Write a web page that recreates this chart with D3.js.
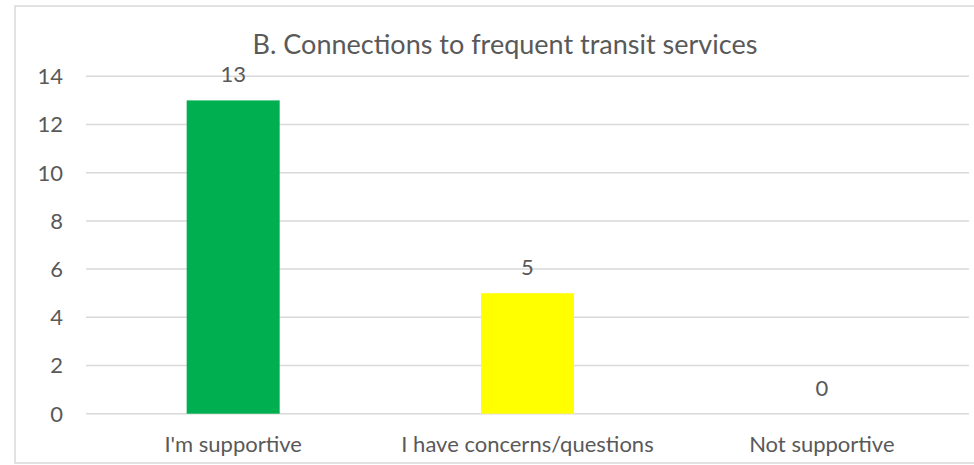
<!DOCTYPE html>
<html>
<head>
<meta charset="utf-8">
<script src="https://cdn.jsdelivr.net/npm/d3@7"></script>
<style>
    html, body { margin: 0; padding: 0; background: #fff; }
    svg { display: block; }
    text { font-family: Lato, "Open Sans", sans-serif; fill: #595959; }
</style>
</head>
<body>
<svg id="chart" width="974" height="465"></svg>
<script>
var title = "B. Connections to frequent transit services";
var categories = ["I'm supportive", "I have concerns/questions", "Not supportive"];
var counts = [13, 5, 0];
var barColors = ["#00B050", "#FFFF00", "#FFFF00"];
var yTicks = [0, 2, 4, 6, 8, 10, 12, 14];

var svg = d3.select("#chart");
var chartBox = {left: 15, top: 6, width: 980, height: 457};
var plot = {left: 86, right: 969, top: 76.3, bottom: 413.7};

// chart frame (right side runs off the picture)
svg.append("rect")
    .attr("x", chartBox.left)
    .attr("y", chartBox.top)
    .attr("width", chartBox.width)
    .attr("height", chartBox.height)
    .style("fill", "none")
    .style("stroke", "#D9D9D9")
    .style("stroke-width", 1.5);

var x = d3.scaleBand()
    .domain(categories)
    .range([plot.left, plot.right])
    .paddingInner(0)
    .paddingOuter(0);

var y = d3.scaleLinear()
    .domain([0, 14])
    .range([plot.bottom, plot.top]);

var barWidth = x.bandwidth() * 0.316;

// gridlines
var grid = svg.append("g");
grid.selectAll("line")
    .data(yTicks)
    .enter()
    .append("line")
    .attr("x1", plot.left)
    .attr("x2", plot.right)
    .attr("y1", function(d) {return y(d);})
    .attr("y2", function(d) {return y(d);})
    .style("stroke", "#D9D9D9")
    .style("stroke-width", 1.5);

// y axis labels
var yAxis = svg.append("g")
    .attr("transform", "translate(" + (plot.left - 23) + ",0)");
yAxis.selectAll("text")
    .data(yTicks)
    .enter()
    .append("text")
    .attr("x", 0)
    .attr("y", function(d) {return y(d);})
    .attr("dy", "0.36em")
    .attr("text-anchor", "end")
    .attr("font-size", 22)
    .text(function(d) {return d;});

// bars
var bars = svg.append("g");
bars.selectAll("rect")
    .data(counts)
    .enter()
    .append("rect")
    .attr("x", function(d, i) {return x(categories[i]) + (x.bandwidth() - barWidth) / 2;})
    .attr("y", function(d) {return y(d);})
    .attr("width", barWidth)
    .attr("height", function(d) {return y(0) - y(d);})
    .style("fill", function(d, i) {return barColors[i];});

// value labels
bars.selectAll("text")
    .data(counts)
    .enter()
    .append("text")
    .attr("x", function(d, i) {return x(categories[i]) + x.bandwidth() / 2;})
    .attr("y", function(d) {return y(d) - 18;})
    .attr("text-anchor", "middle")
    .attr("font-size", 22)
    .text(function(d) {return d;});

// category labels
svg.append("g")
    .selectAll("text")
    .data(categories)
    .enter()
    .append("text")
    .attr("x", function(d) {return x(d) + x.bandwidth() / 2;})
    .attr("y", 451.5)
    .attr("text-anchor", "middle")
    .attr("font-size", 22)
    .text(function(d) {return d;});

// title
svg.append("text")
    .attr("x", chartBox.left + chartBox.width / 2)
    .attr("y", 54)
    .attr("text-anchor", "middle")
    .attr("font-size", 27)
    .text(title);
</script>
</body>
</html>
